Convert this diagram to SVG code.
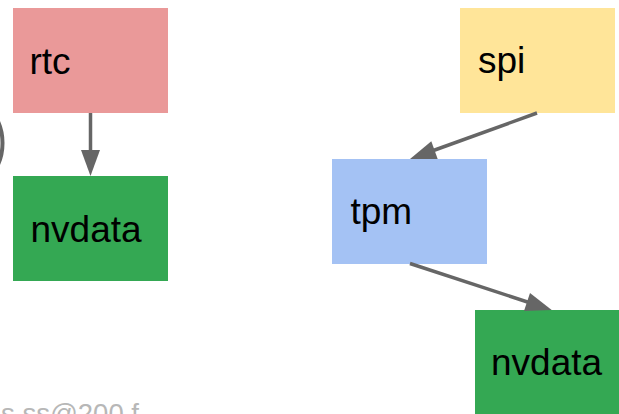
<svg xmlns="http://www.w3.org/2000/svg" width="619" height="414" viewBox="0 0 619 414">
<style>
.lbl{font-family:"Liberation Sans",Arial,sans-serif;font-size:37px;fill:#000}
.edge{stroke:#666;stroke-width:3.5;fill:none}
.head{fill:#666}
</style>
<rect width="619" height="414" fill="#fff"/>
<circle cx="-50" cy="143" r="52.5" fill="none" stroke="#666" stroke-width="4"/>
<g id="rtc"><rect x="13" y="8" width="155" height="105" fill="#ea9999"/><text class="lbl" x="29.5" y="74">rtc</text></g>
<g id="nvdata1"><rect x="13" y="176" width="155" height="105" fill="#34a853"/><text class="lbl" x="30.5" y="241.5">nvdata</text></g>
<g id="spi"><rect x="460" y="8" width="155" height="105" fill="#ffe599"/><text class="lbl" x="478" y="73">spi</text></g>
<g id="tpm"><rect x="332" y="159" width="155" height="105" fill="#a4c2f4"/><text class="lbl" x="350.5" y="224">tpm</text></g>
<g id="nvdata2"><rect x="475" y="310" width="155" height="105" fill="#34a853"/><text class="lbl" x="491" y="375">nvdata</text></g>
<g id="connectors">
<line class="edge" x1="90.5" y1="113" x2="90.5" y2="152"/>
<polygon class="head" points="81,150 100,150 90.5,176"/>
<line class="edge" x1="537" y1="113" x2="432" y2="151"/>
<polygon class="head" points="410,159 431.3,141.2 437.7,159"/>
<line class="edge" x1="410" y1="263.5" x2="529" y2="302.5"/>
<polygon class="head" points="551.7,310 530,292.9 524,310.9"/>
</g>
<text x="1" y="422.5" font-family="Liberation Sans,Arial,sans-serif" font-size="27.5" fill="#b7b7b7">s ss@200 f</text>
</svg>
